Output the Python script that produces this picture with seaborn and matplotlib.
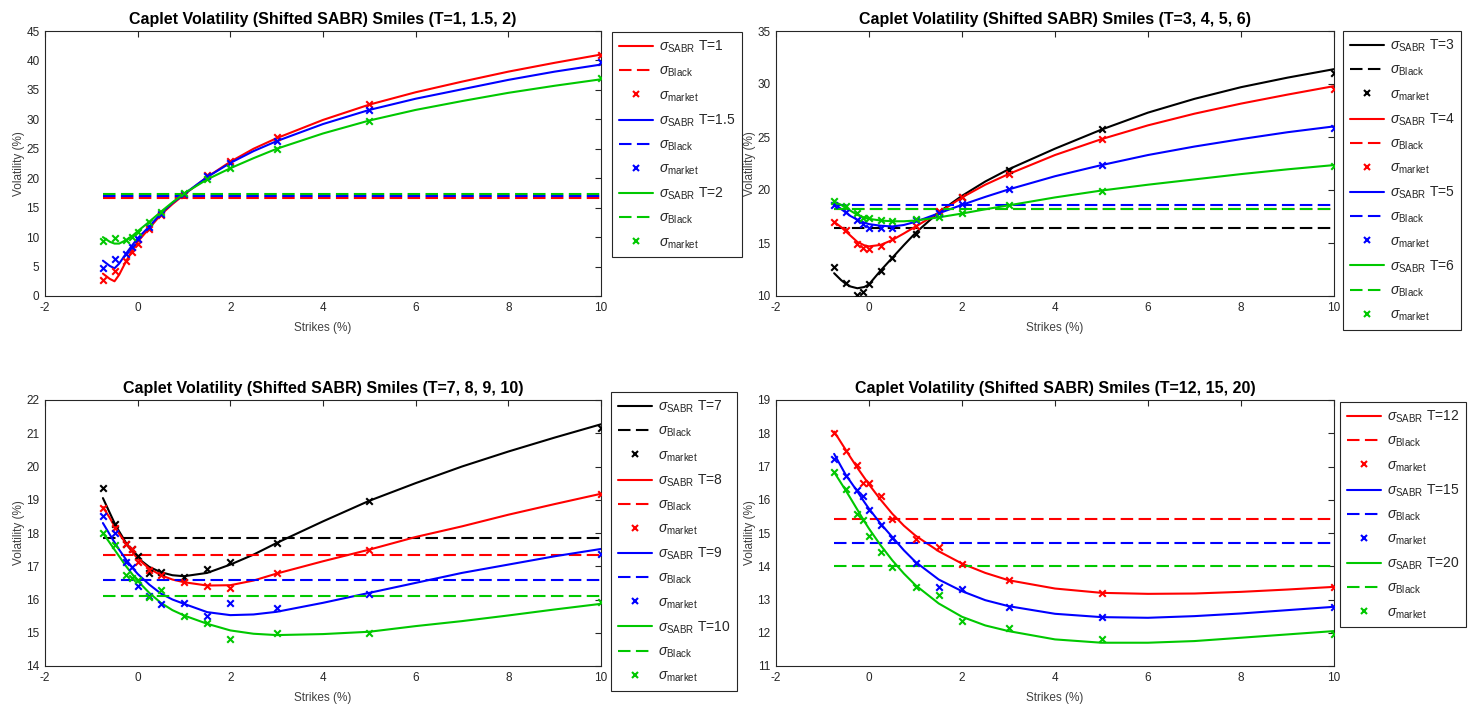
import matplotlib
matplotlib.use("Agg")
import numpy as np
import pandas as pd
import seaborn as sns
import matplotlib.pyplot as plt
from matplotlib.lines import Line2D

# ---------------- data ----------------
K_mkt = [-0.75, -0.5, -0.25, -0.13, 0, 0.25, 0.5, 1, 1.5, 2, 3, 5, 10]
K_fit = [-0.75, -0.6, -0.5, -0.4, -0.25, -0.1, 0, 0.25, 0.5, 0.75, 1, 1.5, 2,
         2.5, 3, 4, 5, 6, 7, 8, 9, 10]

# Panel 1 (T=1, 1.5, 2)
mkt_T1 = [2.8, 4.3, 6.0, 7.5, 8.9, 11.3, 13.7, 17.2, 20.5, 22.9, 27.0, 32.6, 41.0]
mkt_T1_5 = [4.8, 6.3, 7.2, 8.3, 9.7, 11.7, 14.0, 17.3, 20.3, 22.6, 26.3, 31.6, 39.8]
mkt_T2 = [9.4, 9.8, 9.5, 10.0, 10.9, 12.6, 14.2, 17.5, 19.8, 21.7, 25.0, 29.8, 37.0]
sabr_T1 = [3.8, 2.9, 2.5, 3.6, 5.9, 8.0, 9.2, 11.5, 13.8, 15.6, 17.2, 20.2, 22.8,
           25.0, 26.8, 29.9, 32.5, 34.6, 36.4, 38.1, 39.6, 41.0]
sabr_T1_5 = [6.0, 5.1, 4.7, 5.5, 7.2, 8.8, 9.8, 11.8, 14.0, 15.8, 17.3, 20.2, 22.6,
             24.6, 26.3, 29.2, 31.6, 33.5, 35.1, 36.7, 38.1, 39.3]
sabr_T2 = [10.0, 9.2, 8.9, 8.9, 9.5, 10.3, 11.0, 12.6, 14.3, 15.9, 17.4, 19.8, 21.7,
           23.4, 25.0, 27.6, 29.8, 31.6, 33.1, 34.5, 35.7, 36.8]
black_P1 = [16.6, 16.9, 17.25]

# Panel 2 (T=3, 4, 5, 6)
mkt_T3 = [12.7, 11.2, 10.05, 10.4, 11.1, 12.35, 13.6, 15.85, 17.9, 19.35, 21.9, 25.75, 31.0]
mkt_T4 = [16.95, 16.25, 14.9, 14.55, 14.45, 14.7, 15.35, 16.6, 18.0, 19.35, 21.5, 24.8, 29.55]
mkt_T5 = [18.6, 17.95, 17.2, 16.75, 16.4, 16.4, 16.45, 17.2, 17.85, 18.65, 20.05, 22.35, 25.85]
mkt_T6 = [19.0, 18.45, 17.8, 17.35, 17.35, 17.2, 17.1, 17.25, 17.45, 17.8, 18.6, 19.95, 22.3]
sabr_T3 = [12.15, 11.5, 11.15, 10.9, 10.73, 10.85, 11.1, 12.4, 13.6, 14.8, 15.95, 17.9,
           19.45, 20.8, 21.95, 23.9, 25.7, 27.3, 28.6, 29.7, 30.6, 31.4]
sabr_T4 = [17.0, 16.5, 16.1, 15.7, 15.1, 14.78, 14.68, 14.82, 15.28, 15.9, 16.55, 17.85,
           19.3, 20.5, 21.5, 23.3, 24.8, 26.1, 27.2, 28.15, 29.0, 29.8]
sabr_T5 = [18.75, 18.2, 17.88, 17.55, 17.2, 16.92, 16.78, 16.63, 16.56, 16.7, 17.0, 17.8,
           18.6, 19.35, 20.05, 21.3, 22.35, 23.3, 24.1, 24.8, 25.45, 26.0]
sabr_T6 = [18.9, 18.6, 18.3, 18.05, 17.65, 17.4, 17.28, 17.12, 17.05, 17.05, 17.12, 17.42,
           17.78, 18.18, 18.55, 19.3, 19.95, 20.5, 21.0, 21.5, 21.95, 22.35]
black_P2 = [16.4, 18.25, 18.63, 18.2]

# Panel 3 (T=7, 8, 9, 10)
mkt_T7 = [19.35, 18.28, 17.66, 17.51, 17.3, 16.81, 16.83, 16.68, 16.91, 17.12, 17.7, 18.96, 21.15]
mkt_T8 = [18.75, 18.15, 17.66, 17.51, 17.13, 16.9, 16.73, 16.52, 16.42, 16.35, 16.8, 17.48, 19.18]
mkt_T9 = [18.5, 18.0, 17.13, 16.98, 16.42, 16.1, 15.86, 15.88, 15.51, 15.89, 15.73, 16.18, 17.38]
mkt_T10 = [18.0, 17.63, 16.73, 16.65, 16.6, 16.08, 16.3, 15.51, 15.28, 14.8, 14.98, 14.98, 15.91]
sabr_T7 = [19.05, 18.6, 18.3, 18.05, 17.7, 17.42, 17.25, 16.98, 16.82, 16.73, 16.7, 16.8,
           17.05, 17.35, 17.7, 18.35, 18.97, 19.5, 20.0, 20.45, 20.87, 21.27]
sabr_T8 = [18.78, 18.45, 18.2, 17.98, 17.68, 17.4, 17.23, 16.93, 16.73, 16.6, 16.52, 16.42,
           16.43, 16.57, 16.78, 17.15, 17.5, 17.88, 18.2, 18.55, 18.87, 19.18]
sabr_T9 = [18.3, 17.95, 17.72, 17.5, 17.2, 16.93, 16.77, 16.45, 16.18, 16.0, 15.87, 15.62,
           15.53, 15.55, 15.63, 15.9, 16.2, 16.5, 16.8, 17.05, 17.3, 17.52]
sabr_T10 = [18.0, 17.7, 17.5, 17.3, 17.0, 16.73, 16.56, 16.2, 15.9, 15.68, 15.52, 15.27,
            15.07, 14.97, 14.93, 14.96, 15.03, 15.2, 15.35, 15.52, 15.7, 15.87]
black_P3 = [17.86, 17.35, 16.58, 16.12]

# Panel 4 (T=12, 15, 20)
mkt_T12 = [18.0, 17.47, 17.05, 16.49, 16.49, 16.1, 15.41, 14.81, 14.57, 14.06, 13.58, 13.21, 13.38]
mkt_T15 = [17.23, 16.7, 16.3, 16.1, 15.68, 15.25, 14.86, 14.1, 13.38, 13.33, 12.78, 12.48, 12.78]
mkt_T20 = [16.83, 16.31, 15.56, 15.38, 14.9, 14.43, 13.98, 13.38, 13.13, 12.35, 12.15, 11.8, 11.96]
sabr_T12 = [18.05, 17.72, 17.5, 17.28, 16.96, 16.66, 16.46, 16.0, 15.58, 15.22, 14.92, 14.45,
            14.08, 13.8, 13.58, 13.33, 13.2, 13.17, 13.18, 13.23, 13.3, 13.38]
sabr_T15 = [17.38, 17.0, 16.75, 16.55, 16.25, 15.93, 15.73, 15.28, 14.88, 14.48, 14.13, 13.6,
            13.25, 12.98, 12.8, 12.57, 12.47, 12.45, 12.5, 12.58, 12.68, 12.78]
sabr_T20 = [16.83, 16.5, 16.28, 16.05, 15.7, 15.35, 15.13, 14.63, 14.18, 13.78, 13.43, 12.88,
            12.48, 12.22, 12.05, 11.8, 11.7, 11.7, 11.75, 11.85, 11.95, 12.05]
black_P4 = [15.42, 14.69, 14.01]

titles = ["Caplet Volatility (Shifted SABR) Smiles (T=1, 1.5, 2)",
          "Caplet Volatility (Shifted SABR) Smiles (T=3, 4, 5, 6)",
          "Caplet Volatility (Shifted SABR) Smiles (T=7, 8, 9, 10)",
          "Caplet Volatility (Shifted SABR) Smiles (T=12, 15, 20)"]
maturity_labels = [["1", "1.5", "2"], ["3", "4", "5", "6"],
                   ["7", "8", "9", "10"], ["12", "15", "20"]]
y_limits = [(0, 45), (10, 35), (14, 22), (11, 19)]
y_steps = [5, 5, 1, 1]

# ---------------- style ----------------
sns.set_theme(style="white")
plt.rcParams["font.family"] = ["Liberation Sans", "DejaVu Sans"]
plt.rcParams["mathtext.fontset"] = "custom"
plt.rcParams["mathtext.rm"] = "Liberation Sans"
plt.rcParams["mathtext.it"] = "Liberation Sans:italic"
plt.rcParams["lines.dashed_pattern"] = [6.0, 2.6]
plt.rcParams["axes.unicode_minus"] = False

RED, BLUE, GREEN, BLACK = "#ff0000", "#0000ff", "#00c800", "#000000"
panels = [
    dict(mkt=[mkt_T1, mkt_T1_5, mkt_T2], sabr=[sabr_T1, sabr_T1_5, sabr_T2],
         black=black_P1, colors=[RED, BLUE, GREEN]),
    dict(mkt=[mkt_T3, mkt_T4, mkt_T5, mkt_T6], sabr=[sabr_T3, sabr_T4, sabr_T5, sabr_T6],
         black=black_P2, colors=[BLACK, RED, BLUE, GREEN]),
    dict(mkt=[mkt_T7, mkt_T8, mkt_T9, mkt_T10], sabr=[sabr_T7, sabr_T8, sabr_T9, sabr_T10],
         black=black_P3, colors=[BLACK, RED, BLUE, GREEN]),
    dict(mkt=[mkt_T12, mkt_T15, mkt_T20], sabr=[sabr_T12, sabr_T15, sabr_T20],
         black=black_P4, colors=[RED, BLUE, GREEN]),
]

W, H = 1473, 704
fig = plt.figure(figsize=(W / 100, H / 100), dpi=100)

# axes rectangles in pixels: left, top, right, bottom
ax_px = [(45, 31, 601, 296), (776, 31, 1334, 296),
         (45, 400, 601, 666), (776, 400, 1334, 666)]
leg_px = [(612, 32), (1343, 31), (611, 392), (1340, 402)]

AX_COL = "#262626"
LBL_COL = "#404040"
for i, p in enumerate(panels):
    l, t, r, b = ax_px[i]
    ax = fig.add_axes([l / W, 1 - b / H, (r - l) / W, (b - t) / H])
    handles, labels = [], []
    for j, c in enumerate(p["colors"]):
        df_fit = pd.DataFrame({"K": K_fit, "v": p["sabr"][j]})
        df_mkt = pd.DataFrame({"K": K_mkt, "v": p["mkt"][j]})
        df_blk = pd.DataFrame({"K": [K_mkt[0], K_mkt[-1]],
                               "v": [p["black"][j], p["black"][j]]})
        sns.lineplot(data=df_fit, x="K", y="v", color=c, lw=1.5, ax=ax)
        sns.lineplot(data=df_blk, x="K", y="v", color=c, lw=1.5, ls="--", ax=ax)
        sns.scatterplot(data=df_mkt, x="K", y="v", color=c, marker="x", s=22,
                        linewidth=1.5, ax=ax, zorder=3)
        T = maturity_labels[i][j]
        handles += [Line2D([], [], color=c, lw=1.5),
                    Line2D([], [], color=c, lw=1.5, ls="--"),
                    Line2D([], [], color=c, ls="none", marker="x", ms=4.5, mew=1.5)]
        labels += [r"$\sigma_{\mathrm{SABR}}$ T=%s" % T,
                   r"$\sigma_{\mathrm{Black}}$",
                   r"$\sigma_{\mathrm{market}}$"]
    ax.set_xlim(-2, 10)
    ax.set_xticks(np.arange(-2, 11, 2))
    lo, hi = y_limits[i]
    ax.set_ylim(lo, hi)
    ax.set_yticks(np.arange(lo, hi + 0.01, y_steps[i]))
    ax.set_title(titles[i], fontsize=11.5, fontweight="bold", pad=5, color="black")
    ax.set_xlabel("Strikes (%)", fontsize=8.5, color=LBL_COL, labelpad=6)
    ax.set_ylabel("Volatility (%)", fontsize=8.5, color=LBL_COL, labelpad=1)
    ax.tick_params(direction="in", length=4, width=0.8, top=True, right=True,
                   labelsize=8.5, colors=AX_COL, pad=4)
    for s in ax.spines.values():
        s.set_color(AX_COL)
        s.set_linewidth(0.8)
    if ax.get_legend() is not None:
        ax.get_legend().remove()
    lx, ly = leg_px[i]
    leg = ax.legend(handles, labels, loc="upper left",
                    bbox_to_anchor=(lx / W, 1 - ly / H), bbox_transform=fig.transFigure,
                    frameon=True, fancybox=False, framealpha=1, edgecolor=AX_COL,
                    fontsize=10, handlelength=2.45, handletextpad=0.4,
                    labelspacing=0.63, borderpad=0.5, borderaxespad=0)
    leg.get_frame().set_linewidth(0.8)

fig.savefig("out.png", dpi=100)
